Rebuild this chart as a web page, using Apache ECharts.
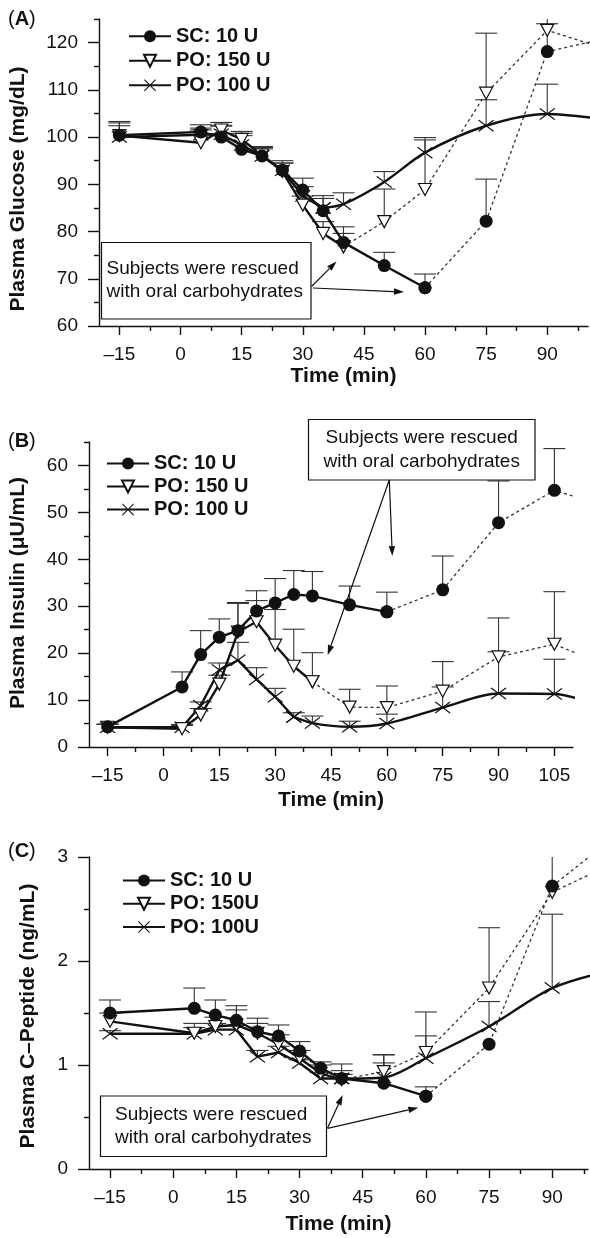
<!DOCTYPE html>
<html><head><meta charset="utf-8">
<script src="https://cdn.jsdelivr.net/npm/echarts@6/dist/echarts.min.js"></script>
<style>html,body{margin:0;padding:0;background:#fff}#c{width:590px;height:1238px}</style>
</head><body><div id="c"></div>
<script>
// ---------- Panel A: Plasma Glucose (mg/dL) ----------
const timeA = [-15, 5, 10, 15, 20, 25, 30, 35, 40, 50, 60, 75, 90, 105];
const scA      = [100.4, 101.1, 100.0, 97.4, 96.0, 93.0, 88.8, 84.4, 77.7, 72.8, 68.1, 82.2, 118.1, 121.0];
const scAErr   = [103.0, 102.6, 102.3, 100.3, 97.5, 94.5, 91.3, 87.6, 81.0, 75.6, 71.0, 91.1, 124.0, null];
const po150A   = [100.3, 98.8, 101.5, 99.5, 96.2, 92.7, 85.6, 79.6, 76.8, 82.1, 88.9, 109.3, 122.6, 118.5];
const po150AErr= [103.3, 101.9, 103.1, 101.2, 98.0, 95.0, 87.5, 82.1, 79.6, 89.0, 99.4, 122.0, 127.0, null];
const po100A   = [100.0, 100.5, 100.6, 98.3, 96.0, 93.0, 87.5, 85.0, 85.8, 90.5, 96.7, 102.4, 104.9, 103.6];
const po100AErr= [102.4, 101.5, 102.5, 100.8, 97.8, 94.5, 89.5, 87.0, 88.2, 92.7, 99.9, 107.9, 111.2, null];
const xTicksA = [-15, 0, 15, 30, 45, 60, 75, 90];
const xMinorA = [-7.5, 7.5, 22.5, 37.5, 52.5, 67.5, 82.5, 97.5];
const yTicksA = [60, 70, 80, 90, 100, 110, 120];
const yMinorA = [65, 75, 85, 95, 105, 115, 125];

// ---------- Panel B: Plasma Insulin (µU/mL) ----------
const timeB = [-15, 5, 10, 15, 20, 25, 30, 35, 40, 50, 60, 75, 90, 105, 120];
const scB      = [4.3, 12.8, 19.7, 23.4, 24.8, 29.0, 30.7, 32.5, 32.2, 30.3, 28.8, 33.5, 47.8, 54.7, 51.0];
const scBErr   = [4.9, 16.0, 24.8, 27.3, 30.6, 33.3, 35.9, 37.6, 37.4, 34.3, 33.0, 40.7, 56.7, 63.6, null];
const po150B   = [4.2, 3.9, 6.8, 13.4, 24.5, 26.7, 21.7, 17.2, 13.9, 8.5, 8.4, 11.9, 19.2, 21.9, 17.0];
const po150BErr= [4.8, 4.6, 8.2, 15.3, 30.8, 31.2, 29.3, 25.1, 20.1, 12.3, 13.0, 18.2, 27.5, 33.1, null];
const po100B   = [4.2, 4.2, 8.8, 16.4, 18.5, 14.4, 10.7, 6.4, 5.1, 4.3, 5.0, 8.4, 11.4, 11.3, 8.0];
const po100BErr= [4.8, 4.8, 9.6, 17.9, 22.3, 16.9, 12.5, 7.3, 6.6, 5.5, 7.0, 12.8, 20.3, 18.7, null];
const xTicksB = [-15, 0, 15, 30, 45, 60, 75, 90, 105];
const xMinorB = [-7.5, 7.5, 22.5, 37.5, 52.5, 67.5, 82.5, 97.5];
const yTicksB = [0, 10, 20, 30, 40, 50, 60];
const yMinorB = [5, 15, 25, 35, 45, 55, 65];

// ---------- Panel C: Plasma C-Peptide (ng/mL) ----------
const timeC = [-15, 5, 10, 15, 20, 25, 30, 35, 40, 50, 60, 75, 90, 105];
const scC      = [1.50, 1.545, 1.48, 1.43, 1.32, 1.28, 1.135, 0.97, 0.87, 0.825, 0.70, 1.20, 2.72, 3.20];
const scCErr   = [1.625, 1.74, 1.625, 1.57, 1.45, 1.385, 1.225, 1.03, 1.01, 1.097, 0.79, null, 3.30, null];
const po150C   = [1.42, 1.305, 1.37, 1.385, 1.305, 1.20, 1.065, 0.92, 0.86, 0.937, 1.12, 1.74, 2.66, 2.95];
const po150CErr= [1.50, 1.40, 1.46, 1.53, 1.40, 1.29, 1.14, 1.00, 0.946, 1.10, 1.51, 2.32, null, null];
const po100C   = [1.30, 1.30, 1.34, 1.34, 1.08, 1.12, 1.02, 0.87, 0.87, 0.88, 1.065, 1.37, 1.74, 1.92];
const po100CErr= [1.33, 1.36, 1.40, 1.38, 1.14, 1.18, 1.05, 0.93, 0.91, 1.02, 1.28, 1.61, 2.45, null];
const xTicksC = [-15, 0, 15, 30, 45, 60, 75, 90];
const xMinorC = [-7.5, 7.5, 22.5, 37.5, 52.5, 67.5, 82.5, 97.5];
const yTicksC = [0, 1, 2, 3];
const yMinorC = [0.5, 1.5, 2.5];

const legendAB = ['SC: 10 U', 'PO: 150 U', 'PO: 100 U'];
const legendC  = ['SC: 10 U', 'PO: 150U', 'PO: 100U'];
const yTitles  = ['Plasma Glucose (mg/dL)', 'Plasma Insulin (\u03bcU/mL)', 'Plasma C\u2013Peptide (ng/mL)'];
const noteText = 'Subjects were rescued\nwith oral carbohydrates';

// ---------- styling / helpers ----------
const FONT = '"Liberation Sans", Arial, Helvetica, sans-serif';
const INK = '#111';
const SYM = {
  sc:    { symbol: 'circle', symbolSize: 13, itemStyle: { color: INK } },
  po150: { symbol: 'triangle', symbolSize: [13, 12], symbolRotate: 180,
           itemStyle: { color: '#fff', borderColor: INK, borderWidth: 1.2 } },
  po100: { symbol: 'path://M0,1L1,0L8,7L15,0L16,1L9,8L16,15L15,16L8,9L1,16L0,15L7,8Z',
           symbolSize: [16, 12], itemStyle: { color: INK } }
};
function pts(t, v, from, to) {
  const out = [];
  t.forEach((x, i) => { if (x >= from && x <= to && v[i] != null) out.push([x, v[i]]); });
  return out;
}
function group(gi, name, key, t, v, cut, mode) {
  const base = Object.assign({ type: 'line', xAxisIndex: gi * 2, yAxisIndex: gi * 2,
    clip: true, showSymbol: true, animation: false, silent: true }, SYM[key]);
  const s1 = Object.assign({}, base, { name: name, data: pts(t, v, -Infinity, cut),
    lineStyle: { color: INK, width: 2.4 }, z: 4 });
  const s2 = Object.assign({}, base, { name: name + ' ', data: pts(t, v, cut, Infinity), z: 3 });
  if (mode === 'dotted') s2.lineStyle = { color: '#333', width: 1.3, type: [3, 3] };
  else { s2.lineStyle = { color: INK, width: 2.4 }; s2.smooth = 0.3; }
  return [s1, s2];
}
function errSeries(gi, t, v, up) {
  const data = [];
  t.forEach((x, i) => { if (up[i] != null && v[i] != null) data.push([x, v[i], up[i]]); });
  return {
    type: 'custom', xAxisIndex: gi * 2, yAxisIndex: gi * 2, z: 1, silent: true, animation: false,
    data: data,
    renderItem: function (params, api) {
      const x = api.value(0);
      const lo = api.coord([x, api.value(1)]);
      const hi = api.coord([x, api.value(2)]);
      const cs = params.coordSys;
      if (lo[0] > cs.x + cs.width) return;
      let top = hi[1], cap = true;
      if (top < cs.y) { top = cs.y; cap = false; }
      const st = { stroke: '#333', lineWidth: 1.1 };
      const ch = [{ type: 'line', shape: { x1: lo[0], y1: lo[1], x2: lo[0], y2: top }, style: st }];
      if (cap) ch.push({ type: 'line', shape: { x1: lo[0] - 11, y1: top, x2: lo[0] + 11, y2: top }, style: st });
      return { type: 'group', children: ch };
    }
  };
}
const fmtX = v => (v < 0 ? '\u2013' + (-v) : String(v));
const tickLine = { color: INK, width: 1.4 };
function xAxes(gi, min, max, maj, minr, gap) {
  return [
    { type: 'value', gridIndex: gi, min: min, max: max, position: 'bottom',
      axisLine: { show: true, onZero: false, lineStyle: tickLine },
      axisTick: { show: true, customValues: maj, length: 9, lineStyle: tickLine },
      axisLabel: { customValues: maj, formatter: fmtX, margin: 19, fontSize: 19, color: INK, fontFamily: FONT },
      splitLine: { show: false },
      name: 'Time (min)', nameLocation: 'middle', nameGap: gap,
      nameTextStyle: { fontSize: 21, fontWeight: 'bold', color: INK, fontFamily: FONT } },
    { type: 'value', gridIndex: gi, min: min, max: max, position: 'bottom',
      axisLine: { show: false, onZero: false },
      axisTick: { show: true, customValues: minr, length: 5, lineStyle: tickLine },
      axisLabel: { show: false }, splitLine: { show: false } }
  ];
}
function yAxes(gi, min, max, maj, minr) {
  return [
    { type: 'value', gridIndex: gi, min: min, max: max, position: 'left',
      axisLine: { show: true, onZero: false, lineStyle: tickLine },
      axisTick: { show: true, customValues: maj, length: 11, lineStyle: tickLine },
      axisLabel: { customValues: maj, margin: 21, fontSize: 19, color: INK, fontFamily: FONT },
      splitLine: { show: false } },
    { type: 'value', gridIndex: gi, min: min, max: max, position: 'left',
      axisLine: { show: false, onZero: false },
      axisTick: { show: true, customValues: minr, length: 5, lineStyle: tickLine },
      axisLabel: { show: false }, splitLine: { show: false } }
  ];
}
function yTitle(text, x, y) {
  return { type: 'text', z: 21, x: x, y: y, rotation: Math.PI / 2,
    style: { text: text, font: 'bold 21px ' + FONT, fill: INK, textAlign: 'center', textVerticalAlign: 'middle' } };
}
function legendAt(left, top, rowH, data) {
  return { left: left, top: top, orient: 'vertical', itemWidth: 42, itemHeight: 15, itemGap: 0,
    padding: 0, selectedMode: false, data: data,
    textStyle: { fontSize: 20, fontWeight: 'bold', color: INK, fontFamily: FONT, lineHeight: rowH } };
}
function arrow(x1, y1, x2, y2) {
  const a = Math.atan2(y2 - y1, x2 - x1), L = 10, W = 3.2;
  const bx = x2 - L * Math.cos(a), by = y2 - L * Math.sin(a);
  const px = -Math.sin(a) * W, py = Math.cos(a) * W;
  return [
    { type: 'line', z: 20, shape: { x1: x1, y1: y1, x2: bx, y2: by }, style: { stroke: INK, lineWidth: 1.2 } },
    { type: 'polygon', z: 20, shape: { points: [[x2, y2], [bx + px, by + py], [bx - px, by - py]] }, style: { fill: INK } }
  ];
}
function note(x, y, w, h, align, tx, ty) {
  return [
    { type: 'rect', z: 19, shape: { x: x, y: y, width: w, height: h }, style: { fill: '#fff', stroke: INK, lineWidth: 1.2 } },
    { type: 'text', z: 21, x: tx, y: ty, style: { text: noteText, font: '19px ' + FONT, fill: INK,
      lineHeight: 23.4, textAlign: align, textVerticalAlign: 'middle' } }
  ];
}
function panelLabel(letter, top) {
  return { type: 'text', z: 21, left: 8, top: top, style: {
    text: '{r|(}{b|' + letter + '}{r|)}',
    rich: { r: { fontSize: 20, fontFamily: FONT, fill: INK }, b: { fontSize: 20, fontWeight: 'bold', fontFamily: FONT, fill: INK } } } };
}

const series = [].concat(
  errSeries(0, timeA, scA, scAErr), errSeries(0, timeA, po150A, po150AErr), errSeries(0, timeA, po100A, po100AErr),
  group(0, legendAB[2], 'po100', timeA, po100A, 35, 'smooth'),
  group(0, legendAB[1], 'po150', timeA, po150A, 40, 'dotted'),
  group(0, legendAB[0], 'sc', timeA, scA, 60, 'dotted'),

  errSeries(1, timeB, scB, scBErr), errSeries(1, timeB, po150B, po150BErr), errSeries(1, timeB, po100B, po100BErr),
  group(1, legendAB[2], 'po100', timeB, po100B, 35, 'smooth'),
  group(1, legendAB[1], 'po150', timeB, po150B, 40, 'dotted'),
  group(1, legendAB[0], 'sc', timeB, scB, 60, 'dotted'),

  errSeries(2, timeC, scC, scCErr), errSeries(2, timeC, po150C, po150CErr), errSeries(2, timeC, po100C, po100CErr),
  group(2, legendC[2], 'po100', timeC, po100C, 40, 'smooth'),
  group(2, legendC[1], 'po150', timeC, po150C, 40, 'dotted'),
  group(2, legendC[0], 'sc', timeC, scC, 60, 'dotted')
);

const option = {
  animation: false,
  backgroundColor: '#fff',
  textStyle: { fontFamily: FONT },
  grid: [
    { left: 99, top: 19, width: 489, height: 307 },
    { left: 89, top: 442, width: 484, height: 305 },
    { left: 89, top: 857, width: 499, height: 312 }
  ],
  xAxis: [].concat(
    xAxes(0, -20, 100, xTicksA, xMinorA, 40),
    xAxes(1, -20, 110, xTicksB, xMinorB, 43),
    xAxes(2, -20, 98.5, xTicksC, xMinorC, 45)
  ),
  yAxis: [].concat(
    yAxes(0, 60, 125, yTicksA, yMinorA),
    yAxes(1, 0, 65, yTicksB, yMinorB),
    yAxes(2, 0, 3, yTicksC, yMinorC)
  ),
  legend: [
    legendAt(128, 24, 24.5, legendAB),
    legendAt(106, 452, 23, legendAB),
    legendAt(122, 869, 23.2, legendC)
  ],
  graphic: [].concat(
    [panelLabel('A', 9), panelLabel('B', 431), panelLabel('C', 841)],
    [yTitle(yTitles[0], 18, 189), yTitle(yTitles[1], 18, 593), yTitle(yTitles[2], 28, 1016)],
    note(101.5, 242.5, 209.5, 76.5, 'left', 106.5, 280),
    arrow(311.5, 286.5, 336.5, 261.5), arrow(313, 288, 404, 292),
    note(308.5, 419.5, 226.5, 60.5, 'center', 421.7, 449.7),
    arrow(389.3, 480, 392.3, 556), arrow(389.3, 480, 327.7, 655),
    note(100.5, 1096, 226, 60.5, 'left', 115, 1126.3),
    arrow(327.5, 1128.3, 342.7, 1095), arrow(327.5, 1128.3, 418.3, 1107.7)
  ),
  series: series
};
const chart = echarts.init(document.getElementById('c'), null, { renderer: 'canvas' });
chart.setOption(option);
</script>
</body></html>
